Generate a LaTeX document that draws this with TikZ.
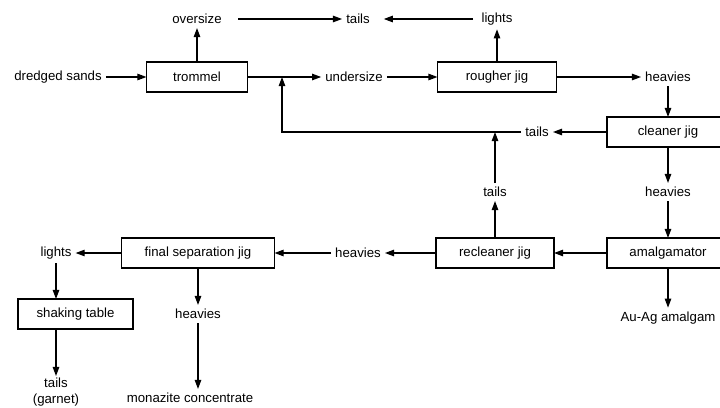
\documentclass[tikz,border=0pt]{standalone}
\usepackage{fontspec}
\setmainfont{Liberation Sans}
\usetikzlibrary{arrows.meta}
\begin{document}
\begin{tikzpicture}[x=0.025cm, y=-0.025cm, line width=0.9pt, >={Triangle[length=6.5pt,width=4.6pt]}]
\tikzstyle{every node} = [font=\fontsize{9.4}{11}\selectfont, inner sep=2.5pt]
\tikzstyle{unit} = [draw, line width=0.9pt, minimum height=0.75cm, outer sep=0pt]
\useasboundingbox (0,0) rectangle (720,407);
% top rows
\node (dredged) at (58, 77) {dredged sands};
\node[unit, minimum width=101*0.025cm] (trommel) at (197, 77) {trommel};
\node (oversize) at (197, 19) {oversize};
\node (tailsa) at (358, 19) {tails};
\node (lights) at (497, 19) {lights};
\node (undersize) at (354, 77) {undersize};
\node[unit, minimum width=119*0.025cm] (rougher) at (497, 77) {rougher jig};
\node (heavya) at (668, 77) {heavies};
\node[unit, minimum width=122*0.025cm] (cleaner) at (668, 132) {cleaner jig};
\node (tailsb) at (537, 132) {tails};
\node (heavyb) at (668, 192) {heavies};
\node (tailsc) at (495, 192) {tails};
\coordinate (jn) at (282, 77);
% lower rows
\node[unit, minimum width=122*0.025cm] (amalg) at (668, 253) {amalgamator};
\node[unit, minimum width=118*0.025cm] (recleaner) at (495, 253) {recleaner jig};
\node (heavyc) at (358, 253) {heavies};
\node[unit, minimum width=153*0.025cm] (finaljig) at (198, 253) {final separation jig};
\node (lightsb) at (56, 253) {lights};
\node[unit, minimum width=115*0.025cm, anchor=west] (shaking) at (18, 314) {shaking table};
\node (heavyd) at (198, 314) {heavies};
\node (auag) at (668, 318) {Au-Ag amalgam};
\node[align=center, inner sep=1pt] (garnet) at (56, 392) {tails\\(garnet)};
\node (monazite) at (190, 398) {monazite concentrate};
\foreach \from/\to in {dredged/trommel, trommel/oversize, undersize/rougher, rougher/lights,
  rougher/heavya, heavya/cleaner, cleaner/tailsb, cleaner/heavyb, heavyb/amalg, amalg/auag,
  amalg/recleaner, recleaner/heavyc, heavyc/finaljig, finaljig/lightsb, finaljig/heavyd,
  recleaner/tailsc}
\draw [->] (\from) -- (\to);
\draw [->, shorten <=9pt] (oversize) -- (tailsa);
\draw [->, shorten <=3pt, shorten >=7pt] (lights) -- (tailsa);
\draw [->] (trommel) -- (undersize);
\draw [->] (tailsb.west) -| (jn);
\draw [->] (tailsc) -- (tailsc |- tailsb.west);
\draw [->] (heavyd) -- (heavyd |- monazite.north);
\draw [->] (lightsb) -- (lightsb |- shaking.north);
\draw [->] (lightsb |- shaking.south) -- (garnet);
\end{tikzpicture}
\end{document}
